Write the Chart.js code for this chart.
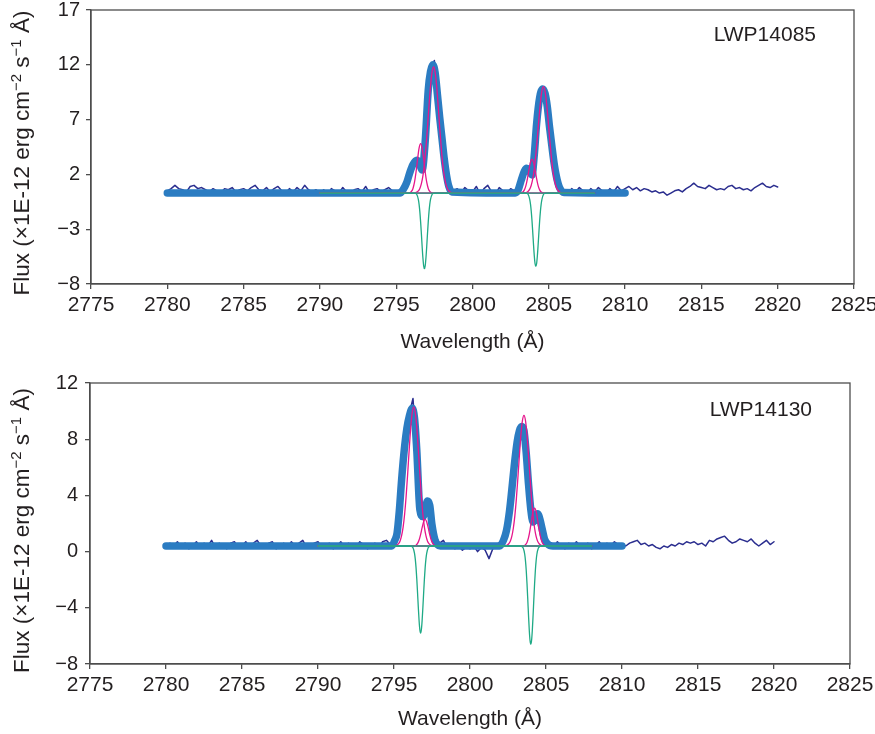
<!DOCTYPE html>
<html>
<head>
<meta charset="utf-8">
<title>Mg II h &amp; k profiles</title>
<script src="https://cdn.jsdelivr.net/npm/chart.js@4.4.1/dist/chart.umd.min.js"></script>
<style>
  html, body { margin: 0; padding: 0; background: #fff; }
  canvas { display: block; }
</style>
</head>
<body>
<canvas id="topChart" width="875" height="367"></canvas>
<canvas id="bottomChart" width="875" height="367"></canvas>
<script>
// observed spectra, 0.25 A sampling from 2780 to 2820
const obsStart = 2780;
const obsStep = 0.25;
const obsTop = [
  0.5,0.7,1.0,0.7,0.6,0.4,0.9,1.0,0.7,0.8,0.6,0.4,0.7,0.5,0.3,0.7,0.6,0.8,0.4,0.6,
  0.7,0.5,0.8,1.0,0.6,0.5,0.8,0.4,0.7,0.9,0.5,0.3,0.7,0.4,0.8,0.5,1.0,0.6,0.4,0.6,
  0.3,0.6,0.1,0.7,0.5,0.3,0.8,0.4,0.2,0.6,0.7,0.4,0.9,0.3,0.6,0.7,0.4,0.6,0.8,0.5,
  0.4,0.6,0.9,1.7,2.6,3.3,3.0,2.4,6.8,11.0,12.4,8.4,5.0,2.3,0.9,0.5,0.7,0.3,0.8,0.5,
  0.4,0.9,0.2,0.7,1.0,0.4,0.2,0.8,0.5,0.3,0.7,0.5,1.0,1.7,2.6,2.3,3.0,7.2,9.6,9.5,
  7.2,4.2,1.9,0.8,0.5,0.3,0.7,0.4,0.8,0.5,0.3,0.7,0.4,0.8,0.5,0.3,0.7,0.4,0.9,0.5,
  0.7,0.9,0.6,0.8,0.5,0.7,0.6,0.4,0.5,0.3,0.4,0.1,0.3,0.5,0.6,0.4,0.7,0.9,1.2,0.9,
  0.8,0.7,1.0,0.8,0.6,0.7,0.6,0.9,1.0,0.7,0.8,0.6,0.7,0.5,0.8,1.0,1.2,0.9,0.8,1.0,0.85
];
const obsBot = [
  0.3,0.6,0.4,0.7,0.3,0.6,0.2,0.4,0.7,0.3,0.6,0.4,0.8,0.3,0.6,0.4,0.2,0.6,0.7,0.3,
  0.4,0.7,0.3,0.6,0.8,0.4,0.3,0.6,0.7,0.2,0.4,0.6,0.3,0.7,0.4,0.6,0.8,0.3,0.4,0.6,
  0.7,0.3,0.4,0.6,0.2,0.4,0.7,0.3,0.6,0.4,0.3,0.7,0.5,0.2,0.4,0.6,0.3,0.7,0.8,0.5,
  0.9,1.9,5.0,8.2,9.8,10.9,7.0,3.0,2.6,3.6,1.9,1.1,0.6,0.8,0.3,0.5,0.2,0.4,0.1,0.3,
  0.2,0.4,0.0,0.3,0.1,-0.5,0.2,0.5,0.7,1.2,2.6,4.6,7.3,8.6,8.8,6.4,2.6,2.3,2.8,1.6,
  0.8,0.5,0.3,0.7,0.4,0.2,0.6,0.3,0.7,0.4,0.3,0.6,0.2,0.4,0.7,0.3,0.6,0.4,0.7,0.5,
  0.5,0.4,0.6,0.7,0.8,0.5,0.6,0.4,0.5,0.3,0.2,0.4,0.3,0.5,0.4,0.6,0.5,0.7,0.6,0.7,
  0.5,0.6,0.4,0.8,0.7,0.9,1.0,1.1,0.8,0.6,0.7,0.9,0.8,0.7,0.9,0.6,0.4,0.6,0.8,0.5,0.7
];

// total fit (thick blue)
const fitTopWave = [2780, 2795.25, 2795.45, 2795.7, 2795.9, 2796.1, 2796.35, 2796.5, 2796.7, 2796.9,
  2797.1, 2797.25, 2797.4, 2797.55, 2797.7, 2797.85, 2798.0, 2798.15, 2798.3, 2798.45,
  2798.65, 2802.8, 2803.0, 2803.2, 2803.4, 2803.55, 2803.7, 2803.9, 2804.05, 2804.2,
  2804.4, 2804.6, 2804.75, 2804.9, 2805.05, 2805.2, 2805.35, 2805.5, 2805.7, 2806.0, 2810];
const fitTopFlux = [0.3, 0.3, 0.6, 1.3, 2.2, 2.9, 3.3, 3.1, 2.4, 5.0,
  9.7, 11.4, 12.0, 11.3, 9.3, 7.2, 5.3, 3.4, 1.9, 0.9,
  0.4, 0.3, 0.6, 1.5, 2.3, 2.55, 2.4, 1.95, 3.8, 6.6,
  9.0, 9.8, 9.4, 8.2, 6.3, 4.6, 3.0, 1.8, 0.8, 0.35, 0.3];
const fitBotWave = [2780, 2794.85, 2795.05, 2795.2, 2795.35, 2795.5, 2795.7, 2795.85, 2796.0, 2796.2,
  2796.35, 2796.5, 2796.7, 2796.9, 2797.05, 2797.2, 2797.35, 2797.5, 2797.7, 2797.85,
  2798.05, 2801.95, 2802.2, 2802.4, 2802.6, 2802.75, 2802.9, 2803.1, 2803.25, 2803.4,
  2803.55, 2803.7, 2803.85, 2804.0, 2804.15, 2804.3, 2804.45, 2804.6, 2804.75, 2804.9,
  2805.1, 2805.45, 2810];
const fitBotFlux = [0.4, 0.4, 0.8, 1.3, 2.9, 5.1, 7.5, 8.8, 9.6, 10.2,
  9.5, 7.2, 3.0, 2.5, 2.9, 3.6, 3.3, 1.9, 0.8, 0.5,
  0.4, 0.4, 0.8, 1.5, 2.9, 4.4, 6.0, 7.8, 8.6, 8.9,
  8.6, 7.0, 4.8, 3.0, 2.1, 2.4, 2.7, 2.3, 1.6, 0.9,
  0.55, 0.4, 0.4];

// emission components (magenta), LWP14085
const magTopAWave = [2790, 2795.8, 2795.9, 2796.0, 2796.1, 2796.2, 2796.3, 2796.4, 2796.5, 2796.6, 2796.7, 2796.8, 2796.9, 2797.0, 2797.1, 2797.2, 2797.3, 2797.4, 2808];
const magTopAFlux = [0.3, 0.3, 0.34, 0.45, 0.72, 1.29, 2.22, 3.38, 4.39, 4.8, 4.39, 3.38, 2.22, 1.29, 0.72, 0.45, 0.34, 0.3, 0.3];
const magTopBWave = [2790, 2796.15, 2796.25, 2796.35, 2796.45, 2796.55, 2796.65, 2796.75, 2796.85, 2796.95, 2797.05, 2797.15, 2797.25, 2797.35, 2797.45, 2797.55, 2797.65, 2797.75, 2797.85, 2797.95, 2798.05, 2798.15, 2798.25, 2798.35, 2798.45, 2798.55, 2798.65, 2798.75, 2808];
const magTopBFlux = [0.3, 0.3, 0.33, 0.38, 0.49, 0.72, 1.15, 1.86, 2.94, 4.45, 6.29, 8.27, 10.07, 11.34, 11.8, 11.34, 10.07, 8.27, 6.29, 4.45, 2.94, 1.86, 1.15, 0.72, 0.49, 0.38, 0.33, 0.3, 0.3];
const magTopCWave = [2790, 2803.1, 2803.2, 2803.3, 2803.4, 2803.5, 2803.6, 2803.7, 2803.8, 2803.9, 2804.0, 2804.1, 2804.2, 2804.3, 2804.4, 2804.5, 2804.6, 2804.7, 2808];
const magTopCFlux = [0.3, 0.3, 0.33, 0.4, 0.59, 0.98, 1.62, 2.42, 3.12, 3.4, 3.12, 2.42, 1.62, 0.98, 0.59, 0.4, 0.33, 0.3, 0.3];
const magTopDWave = [2790, 2803.35, 2803.45, 2803.55, 2803.65, 2803.75, 2803.85, 2803.95, 2804.05, 2804.15, 2804.25, 2804.35, 2804.45, 2804.55, 2804.65, 2804.75, 2804.85, 2804.95, 2805.05, 2805.15, 2805.25, 2805.35, 2805.45, 2805.55, 2805.65, 2805.75, 2805.85, 2805.95, 2808];
const magTopDFlux = [0.3, 0.3, 0.33, 0.37, 0.46, 0.66, 1.01, 1.61, 2.53, 3.8, 5.35, 7.02, 8.54, 9.61, 10.0, 9.61, 8.54, 7.02, 5.35, 3.8, 2.53, 1.61, 1.01, 0.66, 0.46, 0.37, 0.33, 0.3, 0.3];

// absorption components (green), LWP14085
const absTopAWave = [2790, 2796.15, 2796.25, 2796.35, 2796.45, 2796.5, 2796.55, 2796.6, 2796.65, 2796.7, 2796.75, 2796.8, 2796.85, 2796.9, 2796.95, 2797.0, 2797.05, 2797.1, 2797.15, 2797.2, 2797.25, 2797.35, 2797.45, 2797.55, 2808];
const absTopAFlux = [0.3, 0.3, 0.27, 0.16, -0.28, -0.74, -1.42, -2.33, -3.42, -4.58, -5.61, -6.34, -6.6, -6.34, -5.61, -4.58, -3.42, -2.33, -1.42, -0.74, -0.28, 0.16, 0.27, 0.3, 0.3];
const absTopBWave = [2790, 2803.45, 2803.55, 2803.65, 2803.75, 2803.8, 2803.85, 2803.9, 2803.95, 2804.0, 2804.05, 2804.1, 2804.15, 2804.2, 2804.25, 2804.3, 2804.35, 2804.4, 2804.45, 2804.5, 2804.55, 2804.65, 2804.75, 2804.85, 2808];
const absTopBFlux = [0.3, 0.3, 0.27, 0.16, -0.27, -0.71, -1.37, -2.25, -3.32, -4.44, -5.44, -6.15, -6.4, -6.15, -5.44, -4.44, -3.32, -2.25, -1.37, -0.71, -0.27, 0.16, 0.27, 0.3, 0.3];

// emission components (magenta), LWP14130
const magBotAWave = [2790, 2795.0, 2795.1, 2795.2, 2795.3, 2795.4, 2795.5, 2795.6, 2795.7, 2795.8, 2795.9, 2796.0, 2796.1, 2796.2, 2796.3, 2796.4, 2796.5, 2796.6, 2796.7, 2796.8, 2796.9, 2797.0, 2797.1, 2797.2, 2797.3, 2797.4, 2797.5, 2797.6, 2808];
const magBotAFlux = [0.4, 0.4, 0.43, 0.47, 0.57, 0.76, 1.13, 1.74, 2.68, 3.96, 5.55, 7.26, 8.82, 9.9, 10.3, 9.9, 8.82, 7.26, 5.55, 3.96, 2.68, 1.74, 1.13, 0.76, 0.57, 0.47, 0.43, 0.4, 0.4];
const magBotBWave = [2790, 2796.35, 2796.45, 2796.55, 2796.65, 2796.75, 2796.85, 2796.95, 2797.05, 2797.15, 2797.25, 2797.35, 2797.45, 2797.55, 2797.65, 2797.75, 2808];
const magBotBFlux = [0.4, 0.4, 0.46, 0.58, 0.82, 1.21, 1.7, 2.13, 2.3, 2.13, 1.7, 1.21, 0.82, 0.58, 0.46, 0.4, 0.4];
const magBotCWave = [2790, 2802.25, 2802.35, 2802.45, 2802.55, 2802.65, 2802.75, 2802.85, 2802.95, 2803.05, 2803.15, 2803.25, 2803.35, 2803.45, 2803.55, 2803.65, 2803.75, 2803.85, 2803.95, 2804.05, 2804.15, 2804.25, 2804.35, 2804.45, 2804.55, 2804.65, 2804.75, 2804.85, 2808];
const magBotCFlux = [0.4, 0.4, 0.43, 0.47, 0.56, 0.74, 1.08, 1.66, 2.54, 3.75, 5.24, 6.84, 8.31, 9.33, 9.7, 9.33, 8.31, 6.84, 5.24, 3.75, 2.54, 1.66, 1.08, 0.74, 0.56, 0.47, 0.43, 0.4, 0.4];
const magBotDWave = [2790, 2803.55, 2803.65, 2803.75, 2803.85, 2803.95, 2804.05, 2804.15, 2804.25, 2804.35, 2804.45, 2804.55, 2804.65, 2804.75, 2804.85, 2804.95, 2808];
const magBotDFlux = [0.4, 0.4, 0.49, 0.65, 0.99, 1.55, 2.25, 2.86, 3.1, 2.86, 2.25, 1.55, 0.99, 0.65, 0.49, 0.4, 0.4];

// absorption components (green), LWP14130
const absBotAWave = [2790, 2796.05, 2796.15, 2796.25, 2796.35, 2796.4, 2796.45, 2796.5, 2796.55, 2796.6, 2796.65, 2796.7, 2796.75, 2796.8, 2796.85, 2796.9, 2796.95, 2797.0, 2797.05, 2797.1, 2797.15, 2797.25, 2797.35, 2797.45, 2808];
const absBotAFlux = [0.4, 0.4, 0.38, 0.27, -0.12, -0.54, -1.14, -1.96, -2.95, -3.98, -4.91, -5.56, -5.8, -5.56, -4.91, -3.98, -2.95, -1.96, -1.14, -0.54, -0.12, 0.27, 0.38, 0.4, 0.4];
const absBotBWave = [2790, 2803.3, 2803.4, 2803.5, 2803.6, 2803.65, 2803.7, 2803.75, 2803.8, 2803.85, 2803.9, 2803.95, 2804.0, 2804.05, 2804.1, 2804.15, 2804.2, 2804.25, 2804.3, 2804.35, 2804.4, 2804.5, 2804.6, 2804.7, 2808];
const absBotBFlux = [0.4, 0.4, 0.37, 0.25, -0.19, -0.66, -1.34, -2.27, -3.38, -4.55, -5.6, -6.33, -6.6, -6.33, -5.6, -4.55, -3.38, -2.27, -1.34, -0.66, -0.19, 0.25, 0.37, 0.4, 0.4];

const FONT = '"Liberation Sans", Arial, Helvetica, sans-serif';
const TEXT_COLOR = '#231f20';
const AXIS_COLOR = '#4d4d4d';
const OBS_COLOR = '#2b2e8f';
const FIT_COLOR = '#2b7cc2';
const MAG_COLOR = '#e6168c';
const GREEN_COLOR = '#1faa86';

function pts(wave, flux) {
  return wave.map((w, i) => ({ x: w, y: flux[i] }));
}
function obsPts(flux) {
  return flux.map((f, i) => ({ x: obsStart + i * obsStep, y: f }));
}
function line(data, color, width, smooth) {
  return {
    data: data,
    borderColor: color,
    borderWidth: width,
    pointRadius: 0,
    fill: false,
    cubicInterpolationMode: smooth ? 'monotone' : 'default',
    tension: 0,
    borderCapStyle: 'round',
    borderJoinStyle: 'round'
  };
}

// y title with real superscripts, rotated
function drawFluxTitle(ctx, x, y) {
  const parts = [['Flux (\u00d71E-12 erg cm', false], ['\u22122', true], [' s', false], ['\u22121', true], [' \u00c5)', false]];
  const big = '22.5px ' + FONT, small = '15px ' + FONT;
  let total = 0;
  parts.forEach(p => { ctx.font = p[1] ? small : big; total += ctx.measureText(p[0]).width; });
  ctx.save();
  ctx.translate(x, y);
  ctx.rotate(-Math.PI / 2);
  ctx.fillStyle = TEXT_COLOR;
  ctx.textAlign = 'left';
  ctx.textBaseline = 'alphabetic';
  let cx = -total / 2;
  parts.forEach(p => {
    ctx.font = p[1] ? small : big;
    ctx.fillText(p[0], cx, p[1] ? -8.5 : 0);
    cx += ctx.measureText(p[0]).width;
  });
  ctx.restore();
}

const framePlugin = {
  id: 'frame',
  afterDraw(chart, args, opts) {
    const { ctx, chartArea: a } = chart;
    ctx.save();
    ctx.strokeStyle = AXIS_COLOR;
    ctx.lineWidth = 1.3;
    ctx.strokeRect(a.left, a.top, a.right - a.left, a.bottom - a.top);
    ctx.fillStyle = TEXT_COLOR;
    ctx.font = '21px ' + FONT;
    ctx.textAlign = 'right';
    ctx.textBaseline = 'middle';
    ctx.fillText(opts.label, a.right - opts.labelDx, a.top + opts.labelDy);
    ctx.restore();
    drawFluxTitle(ctx, opts.titleX, (a.top + a.bottom) / 2 + opts.titleDy);
  }
};

function makeChart(id, p) {
  return new Chart(document.getElementById(id), {
    type: 'line',
    data: {
      datasets: [
        line(pts(p.absA[0], p.absA[1]), GREEN_COLOR, 1.3, true),
        line(pts(p.absB[0], p.absB[1]), GREEN_COLOR, 1.3, true),
        line(pts(p.magA[0], p.magA[1]), MAG_COLOR, 1.3, true),
        line(pts(p.magB[0], p.magB[1]), MAG_COLOR, 1.3, true),
        line(pts(p.magC[0], p.magC[1]), MAG_COLOR, 1.3, true),
        line(pts(p.magD[0], p.magD[1]), MAG_COLOR, 1.3, true),
        line(pts(p.fit[0], p.fit[1]), FIT_COLOR, 7.5, true),
        line(obsPts(p.obs), OBS_COLOR, 1.5, false)
      ]
    },
    options: {
      responsive: false,
      animation: false,
      events: [],
      layout: { padding: { left: 0, right: p.padRight, top: p.padTop, bottom: 0 } },
      plugins: {
        legend: { display: false },
        tooltip: { enabled: false },
        frame: { label: p.label, labelDx: 38, labelDy: p.labelDy, titleX: 29, titleDy: p.titleDy }
      },
      scales: {
        x: {
          type: 'linear',
          min: 2775, max: 2825,
          ticks: {
            stepSize: 5, autoSkip: false, maxRotation: 0, padding: 4,
            color: TEXT_COLOR, font: { family: FONT, size: 21 },
            callback: v => String(v)
          },
          grid: { drawOnChartArea: false, tickLength: 5, color: AXIS_COLOR, lineWidth: 1.3 },
          border: { color: AXIS_COLOR, width: 1.3 },
          title: {
            display: true, text: 'Wavelength (\u00c5)', color: TEXT_COLOR,
            font: { family: FONT, size: 21 }, padding: { top: 0, bottom: p.xTitlePad }
          },
          afterFit(s) { s.height = p.xAxisHeight; s.paddingLeft = 0; s.paddingRight = 0; }
        },
        y: {
          min: p.yMin, max: p.yMax,
          ticks: {
            stepSize: p.yStep, padding: p.yTickPad, color: TEXT_COLOR,
            font: { family: FONT, size: 20 },
            callback: v => String(v).replace('-', '\u2212')
          },
          grid: { drawOnChartArea: false, tickLength: 5, color: AXIS_COLOR, lineWidth: 1.3 },
          border: { color: AXIS_COLOR, width: 1.3 },
          afterFit(s) { s.width = p.yAxisWidth; s.paddingTop = 0; s.paddingBottom = 0; }
        }
      }
    },
    plugins: [framePlugin]
  });
}

makeChart('topChart', {
  label: 'LWP14085', labelDy: 25, titleDy: 6,
  obs: obsTop, fit: [fitTopWave, fitTopFlux],
  magA: [magTopAWave, magTopAFlux], magB: [magTopBWave, magTopBFlux],
  magC: [magTopCWave, magTopCFlux], magD: [magTopDWave, magTopDFlux],
  absA: [absTopAWave, absTopAFlux], absB: [absTopBWave, absTopBFlux],
  yMin: -8, yMax: 17, yStep: 5, yTickPad: 6,
  padTop: 10, padRight: 21, yAxisWidth: 91, xAxisHeight: 83, xTitlePad: 12
});

makeChart('bottomChart', {
  label: 'LWP14130', labelDy: 27, titleDy: 7,
  obs: obsBot, fit: [fitBotWave, fitBotFlux],
  magA: [magBotAWave, magBotAFlux], magB: [magBotBWave, magBotBFlux],
  magC: [magBotCWave, magBotCFlux], magD: [magBotDWave, magBotDFlux],
  absA: [absBotAWave, absBotAFlux], absB: [absBotBWave, absBotBFlux],
  yMin: -8, yMax: 12, yStep: 4, yTickPad: 7,
  padTop: 16, padRight: 25, yAxisWidth: 90, xAxisHeight: 70, xTitlePad: 2
});
</script>
</body>
</html>
